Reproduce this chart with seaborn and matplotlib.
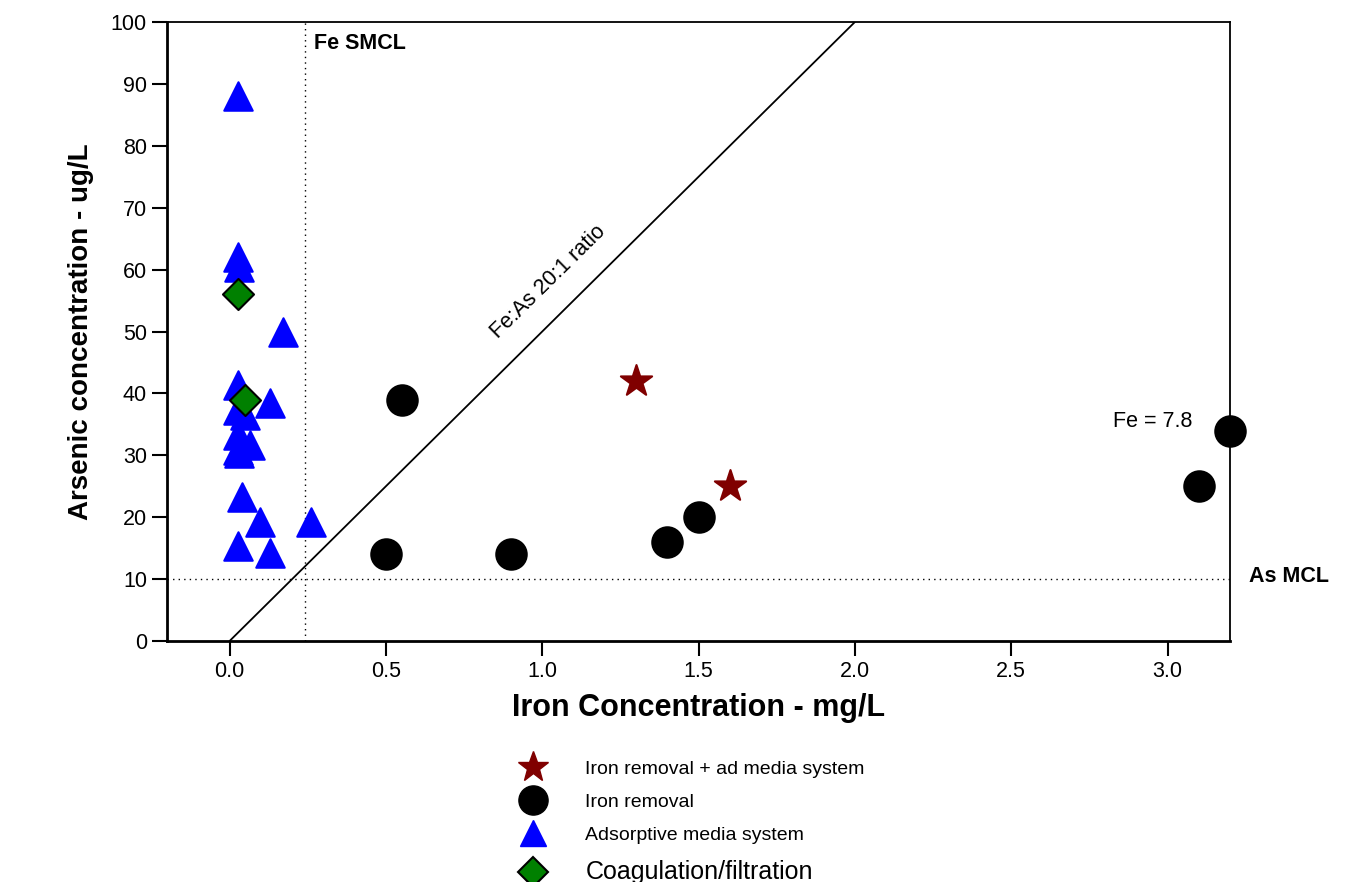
import pandas as pd
import seaborn as sns
import matplotlib.pyplot as plt
from matplotlib.lines import Line2D

# Données
ads_fe = [0.026, 0.026, 0.03, 0.17, 0.026, 0.128, 0.026, 0.048, 0.026, 0.064, 0.026, 0.03,
          0.04, 0.096, 0.26, 0.026, 0.128]
ads_as = [88, 62, 60.5, 50, 41.4, 38.4, 37.3, 36.5, 33.3, 31.7, 30.9, 30.4,
          23.3, 19.3, 19.3, 15.3, 14.2]
coag_fe = [0.026, 0.05]
coag_as = [56, 39]
iron_fe = [0.55, 0.5, 0.9, 1.4, 1.5, 3.1, 3.2]
iron_as = [39, 14, 14, 16, 20, 25, 34]
combo_fe = [1.3, 1.6]
combo_as = [42, 25]

fe_smcl = 0.24
as_mcl = 10
ratio_x = [0, 2.0]
ratio_y = [0, 100]

labels = ["Iron removal + ad media system", "Iron removal",
          "Adsorptive media system", "Coagulation/filtration"]

df = pd.concat([
    pd.DataFrame({"fe": combo_fe, "arsenic": combo_as, "system": labels[0]}),
    pd.DataFrame({"fe": iron_fe, "arsenic": iron_as, "system": labels[1]}),
    pd.DataFrame({"fe": ads_fe, "arsenic": ads_as, "system": labels[2]}),
    pd.DataFrame({"fe": coag_fe, "arsenic": coag_as, "system": labels[3]}),
])

styles = {
    labels[0]: dict(marker="*", color="#800000", s=560, edgecolor="#800000"),
    labels[1]: dict(marker="o", color="black", s=480, edgecolor="black"),
    labels[2]: dict(marker="^", color="blue", s=420, edgecolor="blue"),
    labels[3]: dict(marker="D", color="green", s=250, edgecolor="black"),
}

sns.set_style("ticks")
plt.rcParams["font.family"] = ["Liberation Sans", "DejaVu Sans"]
plt.rcParams["text.color"] = "black"
plt.rcParams["axes.labelcolor"] = "black"
plt.rcParams["xtick.color"] = "black"
plt.rcParams["ytick.color"] = "black"
plt.rcParams["axes.edgecolor"] = "black"

fig = plt.figure(figsize=(13.59, 8.82), dpi=100)
ax = fig.add_axes([0.1229, 0.2732, 0.7822, 0.7018])

ax.axvline(fe_smcl, color="black", linestyle=(0, (1, 3)), linewidth=1)
ax.axhline(as_mcl, color="black", linestyle=(0, (1, 3)), linewidth=1)
ax.plot(ratio_x, ratio_y, color="black", linewidth=1.3)

for name in [labels[2], labels[1], labels[0], labels[3]]:
    st = styles[name]
    sns.scatterplot(data=df[df["system"] == name], x="fe", y="arsenic", ax=ax,
                    marker=st["marker"], color=st["color"], s=st["s"],
                    edgecolor=st["edgecolor"], linewidth=1.5, legend=False,
                    clip_on=False, zorder=3)

ax.set_xlim(-0.2, 3.2)
ax.set_ylim(0, 100)
ax.set_xticks([0, 0.5, 1.0, 1.5, 2.0, 2.5, 3.0])
ax.set_xticklabels(["0.0", "0.5", "1.0", "1.5", "2.0", "2.5", "3.0"])
ax.set_yticks(range(0, 101, 10))
ax.tick_params(labelsize=15.5, length=11, width=1.5, direction="out")
for sp in ax.spines.values():
    sp.set_linewidth(1.3)
ax.spines["left"].set_linewidth(2)
ax.spines["bottom"].set_linewidth(2)

ax.set_xlabel("Iron Concentration - mg/L", fontsize=22, fontweight="bold", labelpad=8)
ax.set_ylabel("Arsenic concentration - ug/L", fontsize=20, fontweight="bold", labelpad=12)

ax.text(0.27, 96.5, "Fe SMCL", fontsize=15.5, fontweight="bold", ha="left", va="center")
ax.text(3.26, 10.5, "As MCL", fontsize=15.5, fontweight="bold", ha="left", va="center",
        clip_on=False)
ax.text(3.08, 35.5, "Fe = 7.8", fontsize=15.5, ha="right", va="center")
ax.text(1.02, 58, "Fe:As 20:1 ratio", fontsize=15.5, ha="center", va="center",
        rotation=44.5)

handles = [
    Line2D([], [], linestyle="none", marker="*", markersize=23, color="#800000"),
    Line2D([], [], linestyle="none", marker="o", markersize=21, color="black"),
    Line2D([], [], linestyle="none", marker="^", markersize=19, color="blue"),
    Line2D([], [], linestyle="none", marker="D", markersize=15, markerfacecolor="green",
           markeredgecolor="black", markeredgewidth=1.5),
]
leg = fig.legend(handles, labels, loc="upper left", bbox_to_anchor=(0.365, 0.158),
                 frameon=False, fontsize=14, handletextpad=1.7, labelspacing=0.8)
leg.get_texts()[3].set_fontsize(18)

fig.savefig("out.png", dpi=100)
